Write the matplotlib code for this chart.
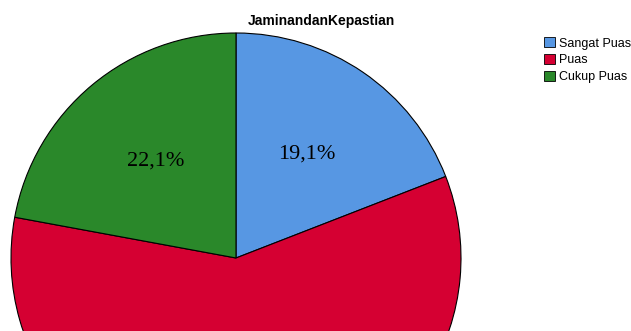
import matplotlib.pyplot as plt
from matplotlib.patches import Patch

categories = ["Sangat Puas", "Puas", "Cukup Puas"]
percentages = [19.1, 58.8, 22.1]
colors = ["#5797E3", "#D50032", "#2A882A"]
title = "JaminandanKepastian"

W, H = 631, 331
fig = plt.figure(figsize=(W / 100, H / 100), dpi=100)
ax = fig.add_axes([0, 0, 1, 1])

wedges, texts, autotexts = ax.pie(
    percentages,
    colors=colors,
    startangle=90,
    counterclock=False,
    center=(236, H - 258),
    radius=225,
    autopct=lambda p: f"{p:.1f}%".replace(".", ","),
    pctdistance=0.56,
    wedgeprops=dict(edgecolor="black", linewidth=0.8),
    textprops=dict(family="Liberation Serif", fontsize=16, color="black"),
)
ax.set_xlim(0, W)
ax.set_ylim(0, H)
ax.set_aspect("auto")
ax.axis("off")

fig.text(321 / W, 1 - 21 / H, title, ha="center", va="center",
         family="Liberation Sans", fontweight="bold", fontsize=10)

handles = [Patch(facecolor=c, edgecolor="black", linewidth=0.6) for c in colors]
fig.legend(handles, categories, loc="upper left", bbox_to_anchor=(544 / W, 1 - 37 / H),
           frameon=False, prop=dict(family="Liberation Sans", size=9),
           handlelength=0.9, handleheight=0.9, handletextpad=0.3,
           labelspacing=0.35, borderaxespad=0, borderpad=0)

fig.savefig("out.png", dpi=100)
